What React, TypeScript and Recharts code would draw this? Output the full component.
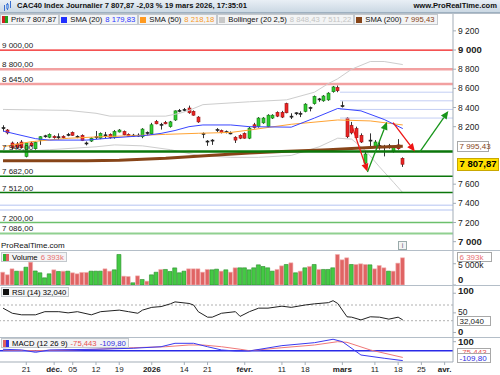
import React from "react";
import {
  ComposedChart,
  Bar,
  Line,
  XAxis,
  YAxis,
  ReferenceLine,
  Cell,
} from "recharts";

const FONT = "'Liberation Sans', Arial, sans-serif";
const AXIS = "#a3adb7";
const AXIS_W = 47;
const X_DOMAIN: [number, number] = [-0.65, 96.8];

// bougies journalières : index 0 = 14 nov. 2025 ... 86 = 19 mars 2026
// [ouverture, plus haut, plus bas, clôture]
const ohlc: [number, number, number, number][] = [
  [8190, 8215, 8150, 8185], [8165, 8175, 8120, 8135], [8030, 8045, 7960, 7980],
  [8020, 8040, 7965, 7985], [8040, 8060, 7975, 7980], [7890, 8040, 7880, 8030],
  [8030, 8045, 7990, 8000], [7970, 8045, 7960, 8035], [8060, 8100, 8010, 8095],
  [8100, 8115, 8085, 8105], [8090, 8130, 8080, 8120], [8100, 8110, 8075, 8085],
  [8090, 8130, 8065, 8095], [8100, 8110, 8075, 8085], [8115, 8135, 8100, 8120],
  [8140, 8150, 8105, 8110], [8100, 8110, 8080, 8090], [8110, 8120, 8050, 8055],
  [8030, 8045, 8005, 8020], [8050, 8090, 8040, 8080], [8095, 8155, 8070, 8085],
  [8080, 8140, 8070, 8130], [8110, 8145, 8080, 8115], [8120, 8130, 8075, 8085],
  [8085, 8165, 8075, 8150], [8145, 8175, 8140, 8165], [8150, 8160, 8110, 8115],
  [8120, 8130, 8095, 8100], [8110, 8125, 8095, 8112], [8112, 8130, 8095, 8110],
  [8095, 8185, 8080, 8175], [8140, 8150, 8110, 8130], [8125, 8240, 8115, 8220],
  [8255, 8270, 8225, 8230], [8220, 8240, 8170, 8225], [8245, 8260, 8225, 8230],
  [8200, 8260, 8190, 8250], [8270, 8370, 8260, 8365], [8365, 8385, 8350, 8370],
  [8375, 8395, 8360, 8380], [8395, 8420, 8335, 8345], [8360, 8370, 8315, 8320],
  [8300, 8310, 8240, 8250], [8130, 8140, 8080, 8120], [8050, 8060, 8000, 8045],
  [8055, 8070, 8010, 8060], [8165, 8185, 8145, 8170], [8160, 8170, 8130, 8140],
  [8145, 8160, 8130, 8148], [8135, 8150, 8120, 8135], [8090, 8100, 8030, 8060],
  [8110, 8120, 8070, 8080], [8130, 8140, 8075, 8080], [8080, 8200, 8070, 8185],
  [8220, 8240, 8180, 8190], [8200, 8300, 8190, 8290], [8240, 8300, 8230, 8290],
  [8200, 8330, 8190, 8320], [8290, 8330, 8280, 8320], [8350, 8360, 8300, 8310],
  [8350, 8365, 8290, 8300], [8440, 8450, 8340, 8345], [8310, 8340, 8280, 8305],
  [8340, 8350, 8320, 8345], [8340, 8360, 8300, 8335], [8360, 8445, 8350, 8435],
  [8395, 8410, 8360, 8400], [8440, 8525, 8430, 8515], [8490, 8500, 8460, 8485],
  [8470, 8530, 8460, 8520], [8480, 8560, 8470, 8550], [8565, 8625, 8555, 8615],
  [8610, 8630, 8560, 8575], [8420, 8465, 8400, 8415], [8290, 8300, 8080, 8095],
  [8215, 8250, 8120, 8135], [8180, 8200, 8075, 8085], [8110, 8130, 8030, 8040],
  [7820, 7935, 7790, 7915], [8050, 8130, 7990, 8060], [7990, 8060, 7980, 8040],
  [8000, 8040, 7960, 8005], [7995, 8010, 7890, 7980], [8000, 8020, 7970, 7990],
  [7940, 7990, 7930, 7985], [8010, 8070, 7960, 7970], [7870, 7880, 7780, 7808],
];

// volume en milliers
const volumesK = [
  3010, 2400, 3800, 3240, 3300, 4180, 5360, 3300, 2870, 1690,
  2630, 3570, 3180, 3250, 3250, 2870, 2630, 2950, 2950, 3250,
  3250, 3250, 3800, 3250, 3570, 7170, 2070, 2000, 520, 2150,
  1290, 900, 2390, 3000, 3650, 3650, 3180, 4020, 2870, 3250,
  3800, 3800, 3800, 3010, 3650, 3570, 3720, 3250, 3570, 3010,
  4040, 4040, 4040, 3570, 4040, 4740, 4350, 4040, 3250, 3650,
  4500, 4820, 5210, 2870, 3250, 4040, 4350, 4820, 3650, 3650,
  3650, 4040, 7170, 5920, 6390, 4820, 4820, 4980, 4820, 4740,
  3800, 4580, 4040, 3250, 3250, 5130, 6393,
];

// indicateurs : [index, valeur]
const sma20: [number, number][] = [
  [0, 8155], [3, 8120], [7, 8075], [10, 8060], [18, 8060], [24, 8085], [30, 8105],
  [34, 8130], [37, 8160], [40, 8200], [43, 8218], [49, 8218], [53, 8200], [62, 8195],
  [67, 8290], [72, 8390], [77, 8365], [82, 8275], [86, 8180],
];
const sma50: [number, number][] = [
  [0, 7991], [6, 8043], [14, 8079], [21, 8095], [28, 8106], [35, 8120], [42, 8131],
  [49, 8140], [53, 8165], [62, 8225], [72, 8270], [79, 8260], [86, 8218],
];
const sma200: [number, number][] = [
  [0, 7845], [18, 7845], [25, 7850], [35, 7870], [46, 7905], [53, 7925], [60, 7940],
  [70, 7960], [80, 7985], [86, 7995],
];
const bollUpper: [number, number][] = [
  [0, 8380], [14, 8370], [20, 8340], [23, 8310], [35, 8310], [38, 8340], [40, 8370],
  [43, 8430], [53, 8460], [61, 8480], [67, 8560], [70, 8650], [72, 8700], [75, 8800],
  [79, 8880], [82, 8880], [86, 8848],
];
const bollLower: [number, number][] = [
  [0, 7930], [10, 7960], [20, 7990], [24, 8010], [30, 8000], [36, 7960], [42, 7900],
  [49, 7880], [55, 7880], [62, 7900], [68, 7990], [72, 8080], [75, 8070], [78, 7950],
  [81, 7780], [84, 7620], [86, 7511],
];
const rsi14: [number, number][] = [
  [0, 62], [2, 49], [4, 45], [7, 45], [9, 53], [12, 53], [14, 50], [16, 53], [19, 45],
  [21, 53], [25, 57], [27, 53], [29, 49], [30, 57], [32, 64], [34, 66], [36, 73],
  [37, 78], [40, 74], [41, 70], [42, 53], [44, 39], [45, 39], [47, 49], [50, 53],
  [51, 41], [53, 53], [55, 62], [57, 62], [60, 67], [62, 64], [65, 70], [67, 73],
  [70, 76], [71, 81], [72, 74], [74, 40], [75, 39], [77, 32], [79, 40], [81, 39],
  [83, 34], [85, 39], [86, 32],
];
const macd: [number, number][] = [
  [0, 16], [4, 8], [7, -18], [10, 8], [20, 16], [28, 27], [34, 44], [37, 82], [41, 82],
  [44, 44], [47, 8], [50, -3], [53, -3], [60, 56], [67, 89], [71, 127], [73, 100],
  [77, -48], [82, -84], [86, -110],
];
const macdSignal: [number, number][] = [
  [0, 8], [7, 0], [20, 16], [28, 33], [35, 44], [40, 63], [43, 63], [47, 44], [51, 16],
  [53, 0], [60, 33], [67, 63], [72, 100], [74, 93], [79, 8], [86, -75],
];

// niveaux tracés
const resistances = [9000, 8800, 8645];
const objectives = [8560, 8470, 8380, 8290];
const objectivesFrom = 72.5;
const supports = [7940, 7682, 7512];
const zoneLines = [7380, 7330];
const deepSupports = [7200, 7086];

// flèches de scénario : [index, cours]
const arrows: { from: [number, number]; to: [number, number]; up: boolean }[] = [
  { from: [75.2, 8190], to: [78.4, 7730], up: false },
  { from: [78.4, 7727], to: [82.6, 8252], up: true },
  { from: [83.9, 8242], to: [88.6, 7940], up: false },
  { from: [89.7, 7940], to: [95.8, 8364], up: true },
];

const priceTicks = [7000, 7200, 7400, 7600, 8200, 8400, 8600, 8800, 9000, 9200];
const volumeTicks = [0, 5000];
const rsiTicks = [0, 50, 100];
const rsiBands = [70, 30];
const macdTicks = [100];

const xTickIdx = [5, 11, 15, 20, 25, 32, 39, 44, 52, 60, 65, 73, 80, 85, 90, 95];
const xTickLabels = ["21", "déc.", "05", "12", "19", "2026", "14", "21", "févr.", "11", "18", "mars", "11", "18", "25", "avr."];

const lastClose = 7807.87;
const lastSma20 = 8179.83;
const lastSma50 = 8218.18;
const lastBoll = [8848.43, 7511.22];
const lastSma200 = 7995.43;
const lastVolumeK = 6393;
const lastRsi = 32.04;
const lastMacd = -109.8;
const lastSignal = -75.443;

const pts = (a: [number, number][]) => a.map(([i, v]) => ({ i, v }));

const thousands = (v: number) => {
  const neg = v < 0;
  const s = Math.abs(Math.trunc(v)).toString();
  const t = s.length > 3 ? s.slice(0, -3) + " " + s.slice(-3) : s;
  return (neg ? "-" : "") + t;
};
const fr = (v: number, d = 2) => {
  const [a, b] = v.toFixed(d).split(".");
  return thousands(Number(a)) + "," + b;
};

function renderCandle(p: any) {
  const { x, y, width, height, payload } = p;
  if (!payload || height == null) return <g />;
  const { open, close, high, low } = payload;
  const span = high - low || 1;
  const at = (v: number) => y + ((high - v) / span) * height;
  const cx = Math.round(x + width / 2) + 0.5;
  const top = at(Math.max(open, close));
  const bot = at(Math.min(open, close));
  const diff = close - open;
  const doji = Math.abs(diff) <= 12;
  const fill = doji ? "#222" : diff > 0 ? "#2fcb2f" : "#ec2424";
  const edge = doji ? "#222" : diff > 0 ? "#137a13" : "#9a1414";
  return (
    <g>
      <line x1={cx} x2={cx} y1={y} y2={y + height} stroke="#333" strokeWidth={1} />
      <rect x={cx - 1.5} y={top} width={3} height={Math.max(bot - top, 1)} fill={fill} stroke={edge} strokeWidth={0.6} />
    </g>
  );
}

function arrowShape(color: string) {
  return (p: any) => {
    const { x1, y1, x2, y2 } = p;
    if (x1 == null) return <g />;
    const a = Math.atan2(y2 - y1, x2 - x1);
    const len = 8;
    const half = 3.5;
    const bx = x2 - len * Math.cos(a);
    const by = y2 - len * Math.sin(a);
    const pA = `${bx + half * Math.sin(a)},${by - half * Math.cos(a)}`;
    const pB = `${bx - half * Math.sin(a)},${by + half * Math.cos(a)}`;
    return (
      <g>
        <line x1={x1} y1={y1} x2={bx} y2={by} stroke={color} strokeWidth={1.3} />
        <polygon points={`${x2},${y2} ${pA} ${pB}`} fill={color} />
      </g>
    );
  };
}

function boxLabel(text: string, o: { w: number; color: string; bg?: string; border?: string; bold?: boolean; dy?: number; fs?: number; h?: number }) {
  return (p: any) => {
    const vb = p.viewBox;
    if (!vb) return null;
    const x = vb.x + vb.width + 4;
    const cy = vb.y + (o.dy ?? 0);
    const h = o.h ?? 11;
    return (
      <g>
        <rect x={x + 0.5} y={Math.round(cy - h / 2) + 0.5} width={o.w} height={h} fill={o.bg ?? "#fff"} stroke={o.border ?? "#a8a8a8"} />
        <text x={x + 2.5} y={cy + 3} fontSize={o.fs ?? 8} fontWeight={o.bold ? 700 : 400} fill={o.color} fontFamily={FONT}>
          {text}
        </text>
      </g>
    );
  };
}

function axisTick(boldValues: number[], fmt: (v: number) => string, shift: Record<number, number> = {}) {
  return (p: any) => {
    const v = p.payload.value;
    const bold = boldValues.includes(v);
    return (
      <text x={p.x} y={p.y + (shift[v] ?? 0)} dy={3} fontSize={bold ? 9.5 : 8.5} fontWeight={bold ? 700 : 400} fill="#222" fontFamily={FONT}>
        {fmt(v)}
      </text>
    );
  };
}

const xTick = (p: any) => {
  const k = xTickIdx.indexOf(p.payload.value);
  const label = xTickLabels[k] ?? "";
  const bold = !/^\d\d$/.test(label);
  return (
    <text x={p.x} y={p.y} dy={5} textAnchor="middle" fontSize={8} fontWeight={bold ? 700 : 400} fill="#222" fontFamily={FONT}>
      {label}
    </text>
  );
};

const levelLabel = (v: number) => ({
  value: fr(v),
  position: "insideBottomLeft" as const,
  offset: 2,
  fontSize: 8,
  fill: "#222",
  fontFamily: FONT,
});

const legendBox: React.CSSProperties = {
  display: "flex",
  alignItems: "center",
  gap: 3,
  height: 11,
  padding: "0 2px 0 1px",
  background: "#f3f4f5",
  border: "1px solid #c3c8cd",
  boxSizing: "border-box",
  whiteSpace: "nowrap",
};

const swatch = (c: string) => <span style={{ width: 6, height: 6, background: c, display: "inline-block" }} />;

export default function App() {
  const candles = ohlc.map(([open, high, low, close], i) => ({ i, open, high, low, close, range: [low, high] }));
  const vols = volumesK.map((v, i) => ({
    i,
    v,
    up: ohlc[i][3] >= (i > 0 ? ohlc[i - 1][3] : ohlc[i][0]),
  }));
  const noMargin = { top: 0, right: 0, bottom: 0, left: 0 };
  const lineBase = { dataKey: "v", dot: false, activeDot: false, isAnimationActive: false, type: "linear" as const };

  return (
    <div style={{ position: "absolute", left: 0, top: 0, width: 500, height: 375, background: "#fff", fontFamily: FONT, overflow: "hidden" }}>
      {/* bandeau titre */}
      <div style={{ position: "absolute", left: 0, top: 0, width: 500, height: 12, background: "linear-gradient(#e9eff5, #cbd8e3)", borderBottom: "1px solid #9eb0c0", fontSize: 7.6, fontWeight: 700, lineHeight: "12px", color: "#111" }}>
        <svg width={12} height={11} style={{ position: "absolute", left: 2, top: 1 }}>
          <line x1={2.5} x2={2.5} y1={4} y2={10} stroke="#3a6fd0" />
          <line x1={5.5} x2={5.5} y1={2} y2={9} stroke="#3a6fd0" />
          <line x1={8.5} x2={8.5} y1={0} y2={7} stroke="#3a6fd0" />
          <rect x={4.5} y={3.5} width={2} height={4} fill="#7fb0f0" stroke="#3a6fd0" strokeWidth={0.5} />
        </svg>
        <span style={{ position: "absolute", left: 17 }}>
          CAC40 Index Journalier {fr(lastClose)} -2,03 % 19 mars 2026, 17:35:01
        </span>
        <span style={{ position: "absolute", right: 3 }}>www.ProRealTime.com</span>
      </div>

      {/* cours */}
      <div style={{ position: "absolute", left: 0, top: 14 }}>
        <ComposedChart width={500} height={236} data={candles} margin={noMargin}>
          <XAxis dataKey="i" type="number" domain={X_DOMAIN} allowDataOverflow hide />
          <YAxis
            orientation="right"
            width={AXIS_W}
            domain={[6913, 9376]}
            allowDataOverflow
            ticks={priceTicks}
            interval={0}
            tickSize={3}
            tickLine={{ stroke: AXIS }}
            axisLine={{ stroke: AXIS }}
            tick={axisTick([7000, 9000], thousands)}
          />
          {resistances.map((lv, k) => (
            <ReferenceLine key={lv} y={lv} stroke={k === 0 ? "#f01818" : "#f2a0a0"} strokeWidth={k === 0 ? 1.2 : 2.5} label={levelLabel(lv)} />
          ))}
          {objectives.map((lv) => (
            <ReferenceLine key={lv} segment={[{ x: objectivesFrom, y: lv }, { x: X_DOMAIN[1], y: lv }]} stroke="#c3cef4" strokeWidth={1} />
          ))}
          {zoneLines.map((lv) => (
            <ReferenceLine key={lv} y={lv} stroke="#cdd7f6" strokeWidth={1.5} />
          ))}
          {deepSupports.map((lv, k) => (
            <ReferenceLine key={lv} y={lv} stroke={k === 0 ? "#6cc06c" : "#90d090"} strokeWidth={k === 0 ? 1.4 : 2} label={levelLabel(lv)} />
          ))}
          <Line {...lineBase} data={pts(bollUpper)} stroke="#cdcdcd" strokeWidth={1} />
          <Line {...lineBase} data={pts(bollLower)} stroke="#cdcdcd" strokeWidth={1} />
          <Line {...lineBase} data={pts(sma200)} stroke="#874418" strokeWidth={3} />
          {supports.map((lv, k) => (
            <ReferenceLine key={lv} y={lv} stroke="#0b760b" strokeWidth={k === 0 ? 2.5 : 1.5} label={levelLabel(lv)} />
          ))}
          <Line {...lineBase} data={pts(sma50)} stroke="#ffa333" strokeWidth={1} />
          <Line {...lineBase} data={pts(sma20)} stroke="#3a46ff" strokeWidth={1} />
          <Bar dataKey="range" barSize={4} shape={renderCandle} isAnimationActive={false} />
          {arrows.map((a, k) => (
            <ReferenceLine
              key={k}
              segment={[{ x: a.from[0], y: a.from[1] }, { x: a.to[0], y: a.to[1] }]}
              shape={arrowShape(a.up ? "#17951a" : "#ee1515")}
            />
          ))}
          <ReferenceLine y={lastSma200} stroke="none" label={boxLabel(fr(lastSma200), { w: 31, color: "#874418", h: 10 })} />
          <ReferenceLine y={lastClose} stroke="none" label={boxLabel(fr(lastClose), { w: 41, color: "#000", bg: "#ffe000", border: "#c9a800", bold: true, fs: 9.5, h: 12 })} />
        </ComposedChart>
      </div>

      {/* légende cours */}
      <div style={{ position: "absolute", left: 0, top: 14, display: "flex", fontSize: 7.7, color: "#111" }}>
        <div style={legendBox}>
          <span style={{ width: 6, height: 7, background: "linear-gradient(90deg,#d02020 50%,#20a020 50%)", display: "inline-block" }} />
          Prix {fr(lastClose)}
        </div>
        <div style={legendBox}>
          {swatch("#2030ff")}SMA (20) <span style={{ color: "#2a36ff" }}>{fr(lastSma20)}</span>
        </div>
        <div style={legendBox}>
          {swatch("#ff9a20")}SMA (50) <span style={{ color: "#f79a2a" }}>{fr(lastSma50)}</span>
        </div>
        <div style={legendBox}>
          {swatch("#c8c8c8")}Bollinger (20 2,5) <span style={{ color: "#c4c4c4" }}>{fr(lastBoll[0])} {fr(lastBoll[1])}</span>
        </div>
        <div style={legendBox}>
          {swatch("#874418")}SMA (200) <span style={{ color: "#874418" }}>{fr(lastSma200)}</span>
        </div>
      </div>
      <div style={{ position: "absolute", left: 1, top: 241, fontSize: 8, color: "#111" }}>ProRealTime.com</div>
      <div style={{ position: "absolute", left: 398, top: 241, width: 7, height: 7, border: "1px solid #9aa", fontSize: 7, lineHeight: "7px", textAlign: "center", color: "#667", background: "#f4f4f4" }}>i</div>

      {/* volume */}
      <div style={{ position: "absolute", left: 0, top: 250 }}>
        <ComposedChart width={500} height={35} data={vols} margin={noMargin}>
          <XAxis dataKey="i" type="number" domain={X_DOMAIN} allowDataOverflow hide />
          <YAxis
            orientation="right"
            width={AXIS_W}
            domain={[0, 8225]}
            allowDataOverflow
            ticks={volumeTicks}
            interval={0}
            tickSize={3}
            tickLine={{ stroke: AXIS }}
            axisLine={{ stroke: AXIS }}
            tick={axisTick([0], (v) => (v === 0 ? "0" : thousands(v) + "k"), { 0: -5.5, 5000: 1 })}
          />
          <Bar dataKey="v" barSize={4} isAnimationActive={false}>
            {vols.map((d) => (
              <Cell key={d.i} fill={d.up ? "#44c944" : "#e06464"} stroke={d.up ? "#2b8c2b" : "#f2b0b0"} strokeWidth={0.6} />
            ))}
          </Bar>
          <ReferenceLine y={lastVolumeK} stroke="none" label={boxLabel(thousands(lastVolumeK) + "k", { w: 34, color: "#e87070", h: 9, dy: -1 })} />
        </ComposedChart>
      </div>
      <div style={{ position: "absolute", left: 1, top: 252, ...legendBox, fontSize: 7.7, height: 10 }}>
        <span style={{ width: 6, height: 7, background: "linear-gradient(90deg,#30b030 50%,#e06060 50%)", display: "inline-block" }} />
        Volume <span style={{ color: "#e87070" }}>{thousands(lastVolumeK)}k</span>
      </div>

      {/* RSI */}
      <div style={{ position: "absolute", left: 0, top: 285 }}>
        <ComposedChart width={500} height={52} margin={noMargin}>
          <XAxis dataKey="i" type="number" domain={X_DOMAIN} allowDataOverflow hide />
          <YAxis
            orientation="right"
            width={AXIS_W}
            domain={[-11.5, 121]}
            allowDataOverflow
            ticks={rsiTicks}
            interval={0}
            tickSize={3}
            tickLine={{ stroke: AXIS }}
            axisLine={{ stroke: AXIS }}
            tick={axisTick([0, 100], (v) => String(v), { 100: -2, 50: -1 })}
          />
          {rsiBands.map((b) => (
            <ReferenceLine key={b} y={b} stroke="#b0b0b0" strokeDasharray="2 2" />
          ))}
          <Line {...lineBase} data={pts(rsi14)} stroke="#222" strokeWidth={1} />
          <ReferenceLine y={lastRsi} stroke="none" label={boxLabel(fr(lastRsi, 3), { w: 33, color: "#222", h: 9, dy: 1 })} />
        </ComposedChart>
      </div>
      <div style={{ position: "absolute", left: 1, top: 287, ...legendBox, fontSize: 7.7, height: 10 }}>
        {swatch("#111")}RSI (14) {fr(lastRsi, 3)}
      </div>

      {/* MACD */}
      <div style={{ position: "absolute", left: 0, top: 337 }}>
        <ComposedChart width={500} height={38} margin={noMargin}>
          <XAxis
            dataKey="i"
            type="number"
            domain={X_DOMAIN}
            allowDataOverflow
            ticks={xTickIdx}
            interval={0}
            height={13}
            tickSize={3}
            tickLine={{ stroke: AXIS }}
            axisLine={{ stroke: AXIS }}
            tick={xTick}
          />
          <YAxis
            orientation="right"
            width={AXIS_W}
            domain={[-125.6, 152]}
            allowDataOverflow
            ticks={macdTicks}
            interval={0}
            tickSize={3}
            tickLine={{ stroke: AXIS }}
            axisLine={{ stroke: AXIS }}
            tick={axisTick([100], (v) => String(v))}
          />
          <ReferenceLine y={0} stroke="#2a2ae8" strokeWidth={1.5} />
          <Line {...lineBase} data={pts(macdSignal)} stroke="#f07878" strokeWidth={1} />
          <Line {...lineBase} data={pts(macd)} stroke="#3a3af0" strokeWidth={1} />
          <ReferenceLine y={lastSignal} stroke="none" label={boxLabel(fr(lastSignal, 3), { w: 33, color: "#e85050", h: 9, dy: -5 })} />
          <ReferenceLine y={lastMacd} stroke="none" label={boxLabel(fr(lastMacd), { w: 33, color: "#3030e0", h: 9, dy: -3 })} />
        </ComposedChart>
      </div>
      <div style={{ position: "absolute", left: 1, top: 338, ...legendBox, fontSize: 7.7, height: 10 }}>
        <span style={{ width: 6, height: 7, background: "linear-gradient(90deg,#e06060 50%,#3030e0 50%)", display: "inline-block" }} />
        MACD (12 26 9) <span style={{ color: "#e85050" }}>{fr(lastSignal, 3)}</span>
        <span style={{ color: "#3030e0" }}>{fr(lastMacd)}</span>
      </div>

      {/* séparateurs */}
      {[13, 250, 285, 337].map((y) => (
        <div key={y} style={{ position: "absolute", left: 0, top: y, width: 500, height: 1, background: "#b4bec8" }} />
      ))}
    </div>
  );
}
